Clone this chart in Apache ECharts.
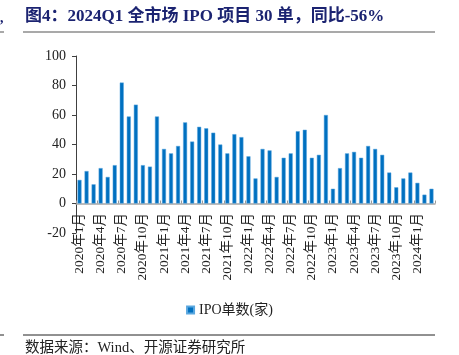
<!DOCTYPE html>
<html>
<head>
<meta charset="utf-8">
<script src="https://cdn.jsdelivr.net/npm/echarts@6/dist/echarts.min.js"></script>
<style>html,body{margin:0;padding:0;background:#fff}#c{width:459px;height:355px}</style>
</head>
<body>
<div id="c"></div>
<script>
var months = [];
(function(){ for (var y = 2020; y <= 2024; y++) { for (var m = 1; m <= 12; m++) { if (y === 2024 && m > 3) break; months.push(y + '年' + m + '月'); } } })();
var ipoCounts = [16,22,13,24,18,26,82,59,67,26,25,59,
                 37,34,39,55,42,52,51,48,40,34,47,45,
                 32,17,37,36,18,31,34,49,50,31,33,60,
                 10,24,34,35,31,39,37,33,21,11,17,21,
                 14,6,10];
var yTicks = {min: -20, max: 100, interval: 20};
var seriesName = 'IPO单数(家)';
var titleText = '图4：2024Q1 全市场 IPO 项目 30 单，同比-56%';
var sourceText = '数据来源：Wind、开源证券研究所';

var serif = '"Liberation Serif", "Times New Roman", "Noto Sans CJK SC", serif';
var chart = echarts.init(document.getElementById('c'), null, {renderer: 'canvas'});
chart.setOption({
  animation: false,
  backgroundColor: '#fff',
  grid: {left: 76, right: 24, top: 56, bottom: 122, containLabel: false},
  legend: {
    data: [seriesName], top: 298, left: 'center', itemWidth: 7, itemHeight: 7, itemGap: 3,
    icon: 'rect',
    textStyle: {fontFamily: serif, fontSize: 14, color: '#222'}
  },
  xAxis: [{
    type: 'category', data: months,
    axisLine: {onZero: true, lineStyle: {color: '#a6a6a6', width: 1.5}},
    axisTick: {show: true, inside: true, interval: 2, length: 3, lineStyle: {color: '#999'}},
    axisLabel: {show: false}
  }, {
    type: 'category', data: months, position: 'bottom',
    axisLine: {show: false, onZero: false},
    axisTick: {show: false},
    axisLabel: {interval: 2, rotate: 90, margin: -20, fontFamily: serif, fontSize: 13.5, color: '#222'}
  }],
  yAxis: {
    type: 'value', min: yTicks.min, max: yTicks.max, interval: yTicks.interval,
    splitLine: {show: false},
    axisLine: {show: true, lineStyle: {color: '#404040', width: 1}},
    axisTick: {show: true, length: 4, lineStyle: {color: '#404040'}},
    axisLabel: {fontFamily: serif, fontSize: 14, color: '#222', margin: 10}
  },
  series: [{
    name: seriesName, type: 'bar', data: ipoCounts, barWidth: 4, xAxisIndex: 0,
    itemStyle: {color: '#0070C0', borderColor: '#5aa7df', borderWidth: 0.5}
  }],
  graphic: [
    {type: 'text', left: 25, top: 8, style: {text: titleText, font: 'bold 17px ' + serif, fill: '#1B2371'}},
    {type: 'line', shape: {x1: 23, y1: 32, x2: 435, y2: 32}, style: {stroke: '#8c8c8c', lineWidth: 1.5}},
    {type: 'line', shape: {x1: 0, y1: 32, x2: 4, y2: 32}, style: {stroke: '#8c8c8c', lineWidth: 1.5}},
    {type: 'text', left: 0, top: 11, style: {text: ',', font: 'bold 14px ' + serif, fill: '#1B2371'}},
    {type: 'line', shape: {x1: 23, y1: 335, x2: 435, y2: 335}, style: {stroke: '#222', lineWidth: 1}},
    {type: 'line', shape: {x1: 0, y1: 335, x2: 4, y2: 335}, style: {stroke: '#222', lineWidth: 1}},
    {type: 'text', left: 25, top: 341, style: {text: sourceText, font: '14.5px ' + serif, fill: '#222'}}
  ]
});
</script>
</body>
</html>
